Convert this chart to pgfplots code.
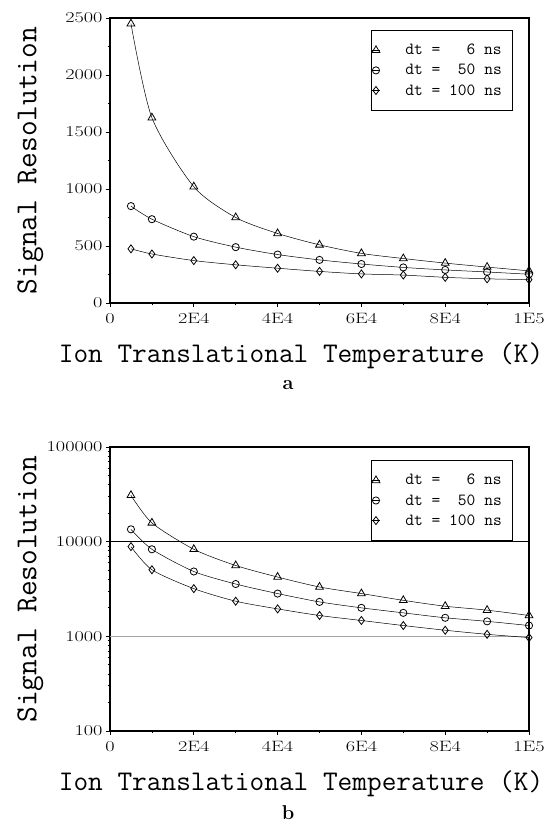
\documentclass[border=0pt]{standalone}
\usepackage{fontspec}
\usepackage{pgfplots}
\usepackage{pgfplotstable}
\pgfplotsset{compat=1.18}
\newcommand\sx[1]{\scalebox{1.35}[1]{\fontsize{15}{15}\selectfont #1}}
\newcommand\labfont{\fontsize{28.5}{30}\selectfont\ttfamily}
\newcommand\ylabfont{\fontsize{30.5}{32}\selectfont\ttfamily}
\newcommand\legpad{\rule{7.5pt}{0pt}}

\pgfplotstableread{
T tri cir dia
5000 2450 850 475
10000 1625 735 430
20000 1020 582 372
30000 750 490 335
40000 610 425 305
50000 510 378 277
60000 435 342 255
70000 390 312 245
80000 350 290 225
90000 315 272 212
100000 282 252 205
}\datalin

\pgfplotstableread{
T tri cir dia
5000 30900 13500 8870
10000 15800 8310 5050
20000 8310 4840 3190
30000 5600 3570 2350
40000 4230 2830 1950
50000 3320 2310 1660
60000 2830 2000 1470
70000 2400 1770 1300
80000 2080 1570 1160
90000 1890 1440 1050
100000 1660 1300 970
}\datalog

\pgfplotsset{
  mystyle/.style={
    scale only axis,
    width=419pt, height=285pt,
    xmin=0, xmax=100000,
    scaled x ticks=false, scaled y ticks=false,
    xtick={0,20000,40000,60000,80000,100000},
    xticklabels={\sx{0},\sx{2E4},\sx{4E4},\sx{6E4},\sx{8E4},\sx{1E5}},
    xticklabel style={yshift=-3pt},
    minor x tick num=1,
    tick align=outside,
    xtick pos=bottom, ytick pos=left,
    major tick length=4pt, minor tick length=2.5pt,
    tick style={black, line width=0.8pt},
    axis line style={line width=1.5pt},
    xlabel={\labfont Ion Translational Temperature (K)},
    ylabel={\ylabfont Signal Resolution},
    xlabel style={at={(axis description cs:0.456,-0.186)}, anchor=center, inner sep=0pt},
    ylabel style={at={(axis description cs:-0.19,0.5)}, anchor=center, inner sep=0pt},
    legend cell align=left,
    legend style={draw=black, line width=0.6pt, fill=white,
      font=\fontsize{17}{19}\selectfont\ttfamily,
      inner xsep=0pt, inner ysep=12pt, row sep=4pt,
      nodes={inner xsep=3.5pt}},
    legend image code/.code={%
      \path[draw=none] (0pt,0pt) -- (30pt,0pt);
      \draw[mark repeat=2,mark phase=2] plot coordinates {(0pt,0pt) (4pt,0pt) (8pt,0pt)};},
  },
  myplot/.style={black, line width=0.5pt, smooth, tension=0.45,
      mark options={solid, fill=white, line width=0.8pt}},
}

\begin{document}
\begin{tikzpicture}
\useasboundingbox (0,0) rectangle (552pt,826pt);

% ---- panel a ----
\begin{axis}[mystyle,
  at={(110pt,523pt)}, anchor=south west,
  ymin=0, ymax=2500,
  ytick={0,500,1000,1500,2000,2500},
  yticklabels={\sx{0},\sx{500},\sx{1000},\sx{1500},\sx{2000},\sx{2500}},
  minor y tick num=1,
  legend style={at={(axis description cs:0.962,0.958)}, anchor=north east},
]
\addplot[myplot, mark=triangle, mark size=4.5pt] table[x=T,y=tri]{\datalin};
\addlegendentry{dt = \phantom{10}6 ns\legpad}
\addplot[myplot, mark=o, mark size=3.6pt] table[x=T,y=cir]{\datalin};
\addlegendentry{dt = \phantom{1}50 ns\legpad}
\addplot[myplot, mark=diamond, mark size=4pt] table[x=T,y=dia]{\datalin};
\addlegendentry{dt = 100 ns\legpad}
\end{axis}
\node[font=\fontsize{20}{20}\selectfont\bfseries] at (288pt,441pt) {a};

% ---- panel b ----
\begin{axis}[mystyle,
  at={(110pt,95pt)}, anchor=south west,
  height=284pt,
  ymode=log, ymin=100, ymax=100000,
  ytick={100,1000,10000,100000},
  yticklabels={\sx{100},\sx{1000},\sx{10000},\sx{100000}},
  legend style={at={(axis description cs:0.962,0.954)}, anchor=north east},
]
\addplot[black, line width=0.7pt, no marks, sharp plot, forget plot] coordinates {(0,10000) (100000,10000)};
\addplot[gray!70, line width=0.7pt, no marks, sharp plot, forget plot] coordinates {(0,1000) (100000,1000)};
\addplot[myplot, mark=triangle, mark size=4.5pt] table[x=T,y=tri]{\datalog};
\addlegendentry{dt = \phantom{10}6 ns\legpad}
\addplot[myplot, mark=o, mark size=3.6pt] table[x=T,y=cir]{\datalog};
\addlegendentry{dt = \phantom{1}50 ns\legpad}
\addplot[myplot, mark=diamond, mark size=4pt] table[x=T,y=dia]{\datalog};
\addlegendentry{dt = 100 ns\legpad}
\end{axis}
\node[font=\fontsize{20}{20}\selectfont\bfseries] at (288pt,13pt) {b};
\end{tikzpicture}
\end{document}
